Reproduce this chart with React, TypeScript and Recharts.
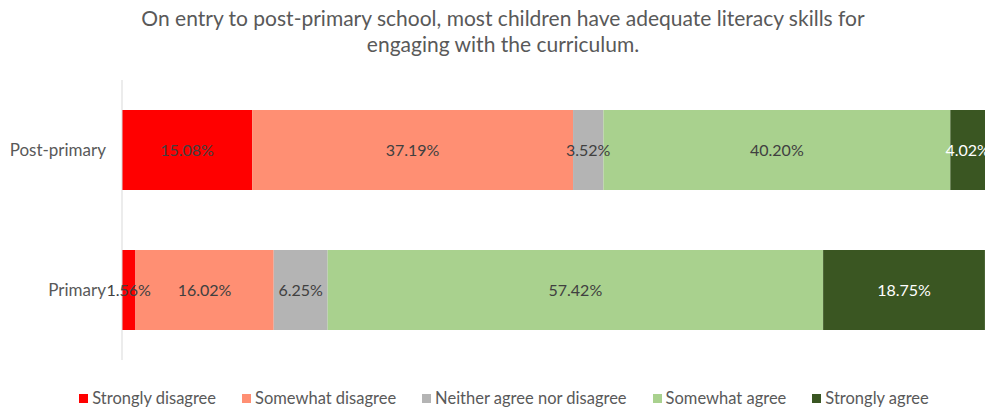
import { BarChart, Bar, XAxis, YAxis, LabelList } from "recharts";

const categories = ["Post-primary", "Primary"];
const stronglyDisagree = [15.08, 1.56];
const somewhatDisagree = [37.19, 16.02];
const neither = [3.52, 6.25];
const somewhatAgree = [40.2, 57.42];
const stronglyAgree = [4.02, 18.75];

const series = [
  { key: "sd", name: "Strongly disagree", color: "#FF0000", label: "#404040", values: stronglyDisagree },
  { key: "smd", name: "Somewhat disagree", color: "#FF8F73", label: "#404040", values: somewhatDisagree },
  { key: "n", name: "Neither agree nor disagree", color: "#B4B4B4", label: "#404040", values: neither },
  { key: "sa", name: "Somewhat agree", color: "#A9D18E", label: "#404040", values: somewhatAgree },
  { key: "sta", name: "Strongly agree", color: "#3A5622", label: "#FFFFFF", values: stronglyAgree },
];

const data = categories.map((name, i) => {
  const row: Record<string, string | number> = { name };
  for (const s of series) row[s.key] = s.values[i];
  return row;
});

const font = "'Gill Sans', 'Gill Sans MT', Lato, sans-serif";

export default function App() {
  return (
    <div
      style={{
        position: "absolute",
        left: 0,
        top: 0,
        width: 987,
        height: 410,
        background: "#fff",
        fontFamily: font,
      }}
    >
      <div
        style={{
          position: "absolute",
          top: 5,
          left: 19,
          width: 968,
          textAlign: "center",
          fontSize: 21,
          lineHeight: "26px",
          color: "#595959",
        }}
      >
        On entry to post-primary school, most children have adequate literacy skills for
        <br />
        engaging with the curriculum.
      </div>
      <BarChart
        width={987}
        height={410}
        data={data}
        layout="vertical"
        margin={{ top: 80, right: 2, bottom: 50, left: 0 }}
        barCategoryGap="21.4%"
      >
        <XAxis type="number" domain={[0, 100]} hide />
        <YAxis
          type="category"
          dataKey="name"
          width={122}
          tickLine={false}
          tickSize={0}
          tickMargin={16}
          axisLine={{ stroke: "#D9D9D9" }}
          tick={{ fill: "#595959", fontSize: 17, fontFamily: font }}
        />
        {series.map((s) => (
          <Bar key={s.key} dataKey={s.key} name={s.name} stackId="a" fill={s.color} isAnimationActive={false}>
            <LabelList
              dataKey={s.key}
              position="center"
              fill={s.label}
              fontSize={16}
              fontFamily={font}
              formatter={(v: number) => `${Number(v).toFixed(2)}%`}
            />
          </Bar>
        ))}
      </BarChart>
      <div
        style={{
          position: "absolute",
          top: 389,
          left: 21,
          width: 966,
          display: "flex",
          justifyContent: "center",
          gap: 26,
          fontSize: 16.5,
          color: "#595959",
          lineHeight: "18px",
        }}
      >
        {series.map((s) => (
          <div key={s.key} style={{ display: "flex", alignItems: "center", gap: 4 }}>
            <span style={{ display: "inline-block", width: 9, height: 9, background: s.color }} />
            <span>{s.name}</span>
          </div>
        ))}
      </div>
    </div>
  );
}
